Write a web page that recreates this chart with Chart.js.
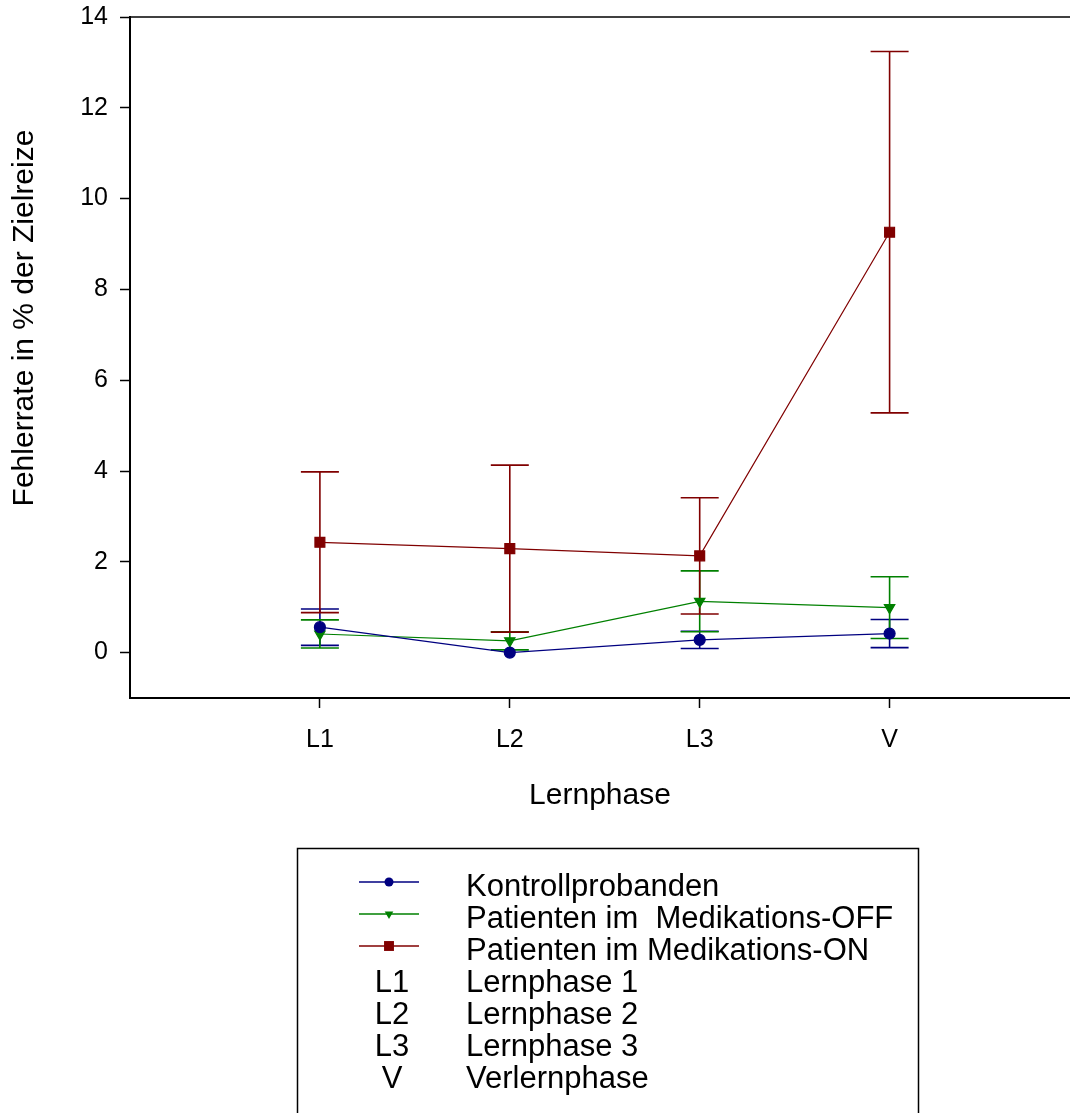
<!DOCTYPE html>
<html>
<head>
<meta charset="utf-8">
<script src="https://cdn.jsdelivr.net/npm/chart.js@4.4.1/dist/chart.umd.min.js"></script>
<style>
  html, body { margin: 0; padding: 0; background: #fff; overflow: hidden; }
</style>
</head>
<body>
<canvas id="chart" width="1070" height="1113"></canvas>
<script>
// phases on the x axis
const phases = ['L1', 'L2', 'L3', 'V'];
const phaseNames = ['Lernphase 1', 'Lernphase 2', 'Lernphase 3', 'Verlernphase'];
const groupNames = ['Kontrollprobanden', 'Patienten im  Medikations-OFF', 'Patienten im Medikations-ON'];

// error rate in % (mean and error bar half-length)
const kontrollMean = [0.56, 0.00, 0.28, 0.42];
const kontrollErr  = [0.40, 0.00, 0.19, 0.31];
const offMean      = [0.41, 0.26, 1.13, 0.99];
const offErr       = [0.31, 0.20, 0.67, 0.68];
const onMean       = [2.43, 2.29, 2.13, 9.26];
const onErr        = [1.55, 1.84, 1.28, 3.98];

const yTicks = [0, 2, 4, 6, 8, 10, 12, 14];

const FONT = "'Liberation Sans', Arial, sans-serif";

function points(values) {
    return values.map((v, i) => ({ x: i + 1, y: v }));
}

// error bars drawn with the chart scales
const errorBars = {
    id: 'errorBars',
    beforeDatasetsDraw(chart) {
        const ctx = chart.ctx;
        const yScale = chart.scales.y;
        chart.data.datasets.forEach((ds, di) => {
            const meta = chart.getDatasetMeta(di);
            ctx.save();
            ctx.strokeStyle = ds.borderColor;
            ctx.lineWidth = 1.6;
            meta.data.forEach((pt, i) => {
                const e = ds.errors[i];
                if (!e) return;
                const v = ds.data[i].y;
                const top = yScale.getPixelForValue(v + e);
                const bot = yScale.getPixelForValue(v - e);
                const x = pt.x;
                ctx.beginPath();
                ctx.moveTo(x, top);
                ctx.lineTo(x, bot);
                ctx.moveTo(x - 19, top);
                ctx.lineTo(x + 19, top);
                ctx.moveTo(x - 19, bot);
                ctx.lineTo(x + 19, bot);
                ctx.stroke();
            });
            ctx.restore();
        });
    }
};

// frame top, y title and the legend box
const extras = {
    id: 'extras',
    afterDraw(chart) {
        const ctx = chart.ctx;
        const a = chart.chartArea;
        ctx.save();
        ctx.strokeStyle = '#000';
        ctx.lineWidth = 1.5;
        ctx.beginPath();
        ctx.moveTo(a.left, a.top);
        ctx.lineTo(a.right, a.top);
        ctx.stroke();

        ctx.fillStyle = '#000';
        ctx.font = '30px ' + FONT;
        ctx.textAlign = 'center';
        ctx.textBaseline = 'middle';
        ctx.translate(25, 318);
        ctx.rotate(-Math.PI / 2);
        ctx.fillText('Fehlerrate in % der Zielreize', 0, 0);
        ctx.restore();

        // legend
        ctx.save();
        ctx.strokeStyle = '#000';
        ctx.lineWidth = 1.5;
        ctx.strokeRect(297.5, 848.5, 621, 320);
        ctx.font = '31px ' + FONT;
        ctx.textBaseline = 'alphabetic';
        chart.data.datasets.forEach((ds, i) => {
            const y = 882 + i * 32;
            ctx.strokeStyle = ds.borderColor;
            ctx.fillStyle = ds.borderColor;
            ctx.lineWidth = 1.5;
            ctx.beginPath();
            ctx.moveTo(359, y);
            ctx.lineTo(419, y);
            ctx.stroke();
            Chart.helpers.drawPoint(ctx, {
                pointStyle: ds.pointStyle,
                rotation: ds.pointRotation || 0,
                radius: ds.legendRadius,
                borderWidth: 0
            }, 389, y);
            ctx.fillStyle = '#000';
            ctx.textAlign = 'left';
            ctx.fillText(groupNames[i], 466, y + 14);
        });
        phases.forEach((p, i) => {
            const y = 992 + i * 32;
            ctx.fillStyle = '#000';
            ctx.textAlign = 'center';
            ctx.fillText(p, 392, y);
            ctx.textAlign = 'left';
            ctx.fillText(phaseNames[i], 466, y);
        });
        ctx.restore();
    }
};

new Chart(document.getElementById('chart'), {
    type: 'line',
    data: {
        datasets: [{
            label: groupNames[0],
            data: points(kontrollMean),
            errors: kontrollErr,
            borderColor: '#000080',
            backgroundColor: '#000080',
            pointStyle: 'circle',
            pointRadius: 5.5,
            legendRadius: 4.5,
            borderWidth: 1.2
        }, {
            label: groupNames[1],
            data: points(offMean),
            errors: offErr,
            borderColor: '#008000',
            backgroundColor: '#008000',
            pointStyle: 'triangle',
            pointRotation: 180,
            pointRadius: 6,
            legendRadius: 5,
            borderWidth: 1.2
        }, {
            label: groupNames[2],
            data: points(onMean),
            errors: onErr,
            borderColor: '#800000',
            backgroundColor: '#800000',
            pointStyle: 'rect',
            pointRadius: 7,
            legendRadius: 7,
            borderWidth: 1.2
        }]
    },
    options: {
        responsive: false,
        animation: false,
        layout: { autoPadding: false, padding: { top: 17, left: 0, right: 0, bottom: 299 } },
        elements: {
            line: { tension: 0, fill: false },
            point: { borderWidth: 0, hoverRadius: 6 }
        },
        plugins: {
            legend: { display: false },
            tooltip: { enabled: false }
        },
        scales: {
            x: {
                type: 'linear',
                min: 0,
                max: 4.95,
                afterBuildTicks: (axis) => { axis.ticks = phases.map((p, i) => ({ value: i + 1 })); },
                afterFit: (axis) => { axis.height = 116; axis.paddingLeft = 0; axis.paddingRight = 0; },
                ticks: {
                    color: '#000',
                    font: { family: FONT, size: 25 },
                    padding: 17,
                    maxRotation: 0,
                    callback: (v) => phases[v - 1]
                },
                grid: { display: true, drawOnChartArea: false, tickLength: 10, tickColor: '#000', tickWidth: 1.5 },
                border: { display: true, color: '#000', width: 2 },
                title: {
                    display: true,
                    text: 'Lernphase',
                    color: '#000',
                    font: { family: FONT, size: 30 },
                    padding: { top: 0, bottom: 0 }
                }
            },
            y: {
                min: -1,
                max: 14,
                afterBuildTicks: (axis) => { axis.ticks = yTicks.map(v => ({ value: v })); },
                afterFit: (axis) => { axis.width = 130; axis.paddingTop = 0; axis.paddingBottom = 0; },
                ticks: {
                    color: '#000',
                    font: { family: FONT, size: 25 },
                    padding: 12
                },
                grid: { display: true, drawOnChartArea: false, tickLength: 10, tickColor: '#000', tickWidth: 1.5 },
                border: { display: true, color: '#000', width: 2 }
            }
        }
    },
    plugins: [errorBars, extras]
});
</script>
</body>
</html>
